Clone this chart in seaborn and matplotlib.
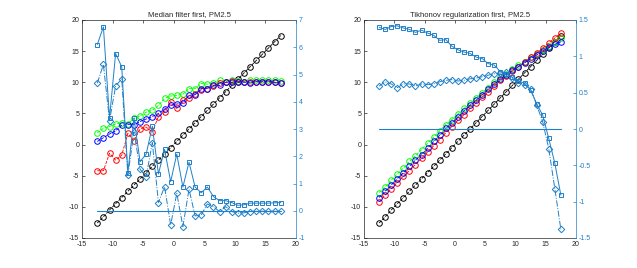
import seaborn as sns
import matplotlib.pyplot as plt
import pandas as pd
import numpy as np

# x positions (shared by all series)
x = [-12.5, -11.5, -10.5, -9.5, -8.5, -7.5, -6.5, -5.5, -4.5, -3.5, -2.5,
     -1.5, -0.5, 0.5, 1.5, 2.5, 3.5, 4.5, 5.5, 6.5, 7.5, 8.5, 9.5, 10.5,
     11.5, 12.5, 13.5, 14.5, 15.5, 16.5, 17.5]

# --- left panel: median filter first ---
black_l = [-12.6, -11.6, -10.5, -9.5, -8.5, -7.5, -6.5, -5.5, -4.5, -3.5, -2.5,
           -1.5, -0.5, 0.5, 1.5, 2.5, 3.5, 4.5, 5.5, 6.5, 7.5, 8.5, 9.5, 10.5,
           11.5, 12.5, 13.5, 14.5, 15.5, 16.5, 17.5]
green_l = [1.9, 2.6, 2.9, 3.3, 3.5, 3.3, 4.2, 4.6, 5.2, 5.5, 6.3, 7.4, 7.8, 7.9,
           8.1, 9.0, 9.0, 9.8, 9.7, 9.9, 10.3, 10.1, 10.3, 10.2, 10.1, 10.3,
           10.3, 10.3, 10.3, 10.3, 10.2]
red_l = [-4.2, -4.2, -1.4, -2.5, -1.7, 1.8, 0.6, 2.5, 2.8, 2.0, 4.5, 5.2, 6.9,
         5.8, 7.2, 7.4, 8.1, 8.8, 9.0, 9.4, 9.9, 10.0, 10.2, 10.1, 10.1, 10.0,
         10.1, 10.0, 10.1, 10.0, 9.9]
blue_l = [0.5, 1.1, 1.7, 2.2, 3.1, 3.2, 3.2, 3.7, 4.1, 4.5, 5.0, 5.7, 6.3, 6.5,
          6.7, 7.9, 8.0, 9.0, 9.0, 9.5, 9.5, 10.0, 10.0, 10.1, 10.0, 9.9, 10.1,
          10.1, 10.1, 10.0, 9.9]
square_l = [6.1, 6.75, 3.4, 5.77, 5.28, 1.4, 3.4, 1.8, 2.08, 3.1, 1.35, 2.25,
            1.07, 2.08, 0.87, 1.78, 0.87, 0.66, 0.87, 0.52, 0.37, 0.37, 0.3,
            0.2, 0.22, 0.28, 0.28, 0.28, 0.28, 0.29, 0.3]
diamond_l = [4.68, 5.37, 3.3, 4.58, 4.84, 1.3, 2.9, 1.52, 1.25, 2.5, 0.3, 0.88,
             -0.52, 0.64, -0.58, 0.79, -0.19, -0.16, 0.25, 0.15, -0.03, 0.15,
             -0.03, -0.09, -0.08, -0.03, -0.02, -0.02, -0.02, -0.02, -0.02]

# --- right panel: Tikhonov regularization first ---
black_r = black_l
green_r = [-7.7, -6.8, -5.7, -4.7, -3.8, -2.7, -1.8, -0.8, 0.2, 1.2, 2.2, 3.2,
           4.0, 4.9, 5.8, 6.6, 7.5, 8.3, 9.1, 10.0, 10.8, 11.4, 12.1, 12.7,
           13.3, 14.0, 14.6, 15.2, 15.9, 16.5, 17.1]
blue_r = [-8.5, -7.5, -6.5, -5.5, -4.5, -3.5, -2.5, -1.6, -0.6, 0.5, 1.5, 2.6,
          3.5, 4.4, 5.4, 6.3, 7.1, 8.0, 8.9, 9.7, 10.5, 11.2, 11.9, 12.5, 13.1,
          13.8, 14.4, 15.0, 15.6, 16.1, 16.5]
red_r = [-9.2, -8.1, -7.1, -6.1, -5.1, -4.2, -3.2, -2.2, -1.2, -0.2, 0.8, 1.9,
         2.9, 3.9, 4.8, 5.8, 6.7, 7.6, 8.5, 9.4, 10.3, 11.0, 11.8, 12.5, 13.2,
         14.0, 14.7, 15.5, 16.3, 17.1, 17.9]
square_r = [1.40, 1.37, 1.41, 1.42, 1.39, 1.37, 1.33, 1.36, 1.32, 1.29, 1.22,
            1.23, 1.14, 1.09, 1.06, 1.04, 0.99, 0.97, 0.90, 0.88, 0.79, 0.76,
            0.71, 0.66, 0.63, 0.54, 0.35, 0.19, -0.13, -0.47, -0.91]
diamond_r = [0.59, 0.65, 0.62, 0.57, 0.62, 0.62, 0.59, 0.62, 0.61, 0.62, 0.65,
             0.67, 0.68, 0.66, 0.67, 0.69, 0.70, 0.72, 0.74, 0.76, 0.77, 0.78,
             0.70, 0.63, 0.61, 0.55, 0.33, 0.10, -0.27, -0.82, -1.38]

zero_x = [-12.5, 17.5]
zero_y = [0, 0]

titles = ["Median filter first, PM2.5", "Tikhonov regularization first, PM2.5"]
right_ticks = [[-1, 0, 1, 2, 3, 4, 5, 6, 7], [-1.5, -1, -0.5, 0, 0.5, 1, 1.5]]

sns.set_style("white")
plt.rcParams["font.family"] = ["Liberation Sans", "DejaVu Sans"]
plt.rcParams["axes.unicode_minus"] = False

MBLUE = "#1f80c8"
AXC = "#262626"


def panel(fig, rect, title, blk, grn, red, blu, sq, dm, rticks):
    ax = fig.add_axes(rect)
    df = pd.DataFrame({"x": x, "k": blk, "g": grn, "r": red, "b": blu})
    for col, c in [("k", "black"), ("g", "#00ff00"), ("r", "#ff0000"), ("b", "#0000ff")]:
        sns.lineplot(data=df, x="x", y=col, ax=ax, color=c, linestyle="--",
                     marker="o", markersize=4, markerfacecolor="none",
                     markeredgecolor=c, markeredgewidth=0.7, linewidth=0.6)
    ax.set_xlim(-15, 20)
    ax.set_ylim(-15, 20)
    ax.set_xticks([-15, -10, -5, 0, 5, 10, 15, 20])
    ax.set_yticks([-15, -10, -5, 0, 5, 10, 15, 20])
    ax.set_xlabel("")
    ax.set_ylabel("")
    ax.set_title(title, fontsize=5.5, color=AXC, pad=2.5)
    ax.tick_params(direction="in", length=2.5, width=0.5, labelsize=5,
                   colors=AXC, top=True, pad=2)
    for s in ["left", "bottom", "top"]:
        ax.spines[s].set_color(AXC)
        ax.spines[s].set_linewidth(0.5)
    ax.spines["right"].set_visible(False)

    ax2 = ax.twinx()
    rd = pd.DataFrame({"x": x, "sq": sq, "dm": dm})
    zd = pd.DataFrame({"x": zero_x, "z": zero_y})
    sns.lineplot(data=rd, x="x", y="sq", ax=ax2, color=MBLUE, linestyle="-",
                 marker="s", markersize=3.5, markerfacecolor="none",
                 markeredgecolor=MBLUE, markeredgewidth=0.7, linewidth=0.7)
    sns.lineplot(data=rd, x="x", y="dm", ax=ax2, color=MBLUE, linestyle="-.",
                 marker="D", markersize=3.3, markerfacecolor="none",
                 markeredgecolor=MBLUE, markeredgewidth=0.7, linewidth=0.7)
    sns.lineplot(data=zd, x="x", y="z", ax=ax2, color=MBLUE, linewidth=0.8)
    ax2.set_ylim(rticks[0], rticks[-1])
    ax2.set_yticks(rticks)
    ax2.set_yticklabels(["%g" % t for t in rticks])
    ax2.set_ylabel("")
    ax2.tick_params(direction="in", length=2.5, width=0.5, labelsize=5,
                    colors=MBLUE, pad=2)
    for s in ["left", "bottom", "top"]:
        ax2.spines[s].set_visible(False)
    ax2.spines["right"].set_color(MBLUE)
    ax2.spines["right"].set_linewidth(0.5)
    return ax, ax2


fig = plt.figure(figsize=(6.37, 2.68), dpi=100)
panel(fig, [82 / 637, 30 / 268, 214 / 637, 218 / 268], titles[0],
      black_l, green_l, red_l, blue_l, square_l, diamond_l, right_ticks[0])
panel(fig, [364 / 637, 30 / 268, 212 / 637, 218 / 268], titles[1],
      black_r, green_r, red_r, blue_r, square_r, diamond_r, right_ticks[1])

fig.savefig("out.png", dpi=100)
